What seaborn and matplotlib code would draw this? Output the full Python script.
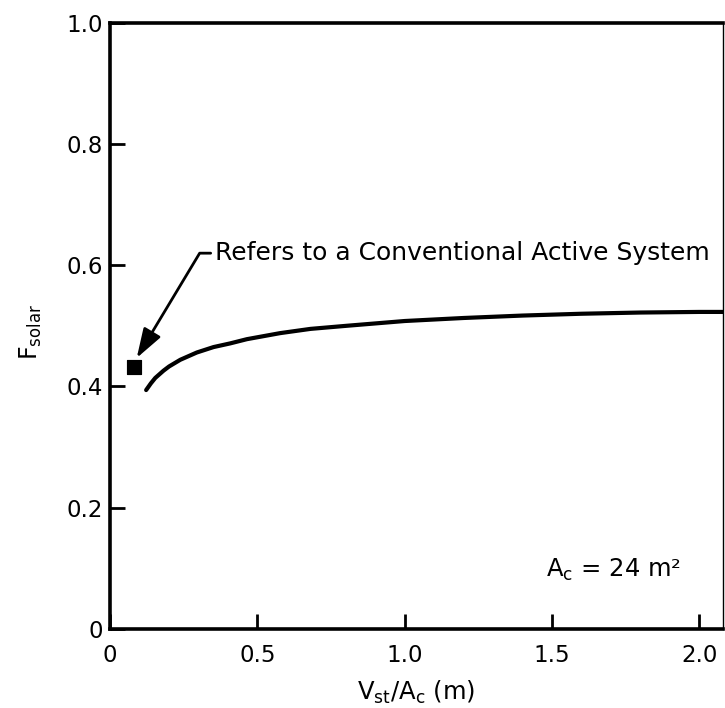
import matplotlib
matplotlib.use("Agg")
import matplotlib.pyplot as plt
import seaborn as sns

# curve
vst_ac = [0.122, 0.138, 0.153, 0.167, 0.181, 0.2, 0.238, 0.294, 0.351, 0.407, 0.464,
          0.577, 0.68, 0.8, 0.9, 1.0, 1.2, 1.4, 1.6, 1.8, 2.0, 2.08]
f_solar = [0.394, 0.405, 0.414, 0.420, 0.426, 0.433, 0.444, 0.456, 0.465, 0.471, 0.478,
           0.488, 0.495, 0.500, 0.504, 0.508, 0.513, 0.517, 0.520, 0.522, 0.523, 0.523]

# conventional active system point
conv_x = [0.0815]
conv_y = [0.432]

x_ticks = [0, 0.5, 1.0, 1.5, 2.0]
x_labels = ["0", "0.5", "1.0", "1.5", "2.0"]
y_ticks = [0, 0.2, 0.4, 0.6, 0.8, 1.0]
y_labels = ["0", "0.2", "0.4", "0.6", "0.8", "1.0"]

sns.set_style("ticks")
plt.rcParams['font.family'] = ['DejaVu Sans']
plt.rcParams['mathtext.default'] = 'regular'
plt.rcParams['text.color'] = 'black'
plt.rcParams['axes.labelcolor'] = 'black'
plt.rcParams['xtick.color'] = 'black'
plt.rcParams['ytick.color'] = 'black'

fig = plt.figure(figsize=(7.25, 7.08), dpi=100)
ax = fig.add_axes([0.152, 0.112, 0.845, 0.8555])

sns.lineplot(x=vst_ac, y=f_solar, ax=ax, color='black', linewidth=3.0,
             sort=False, estimator=None)
sns.scatterplot(x=conv_x, y=conv_y, ax=ax, marker='s', s=110, color='black',
                edgecolor='black', zorder=5)

ax.annotate("Refers to a Conventional Active System", xy=(0.09, 0.447),
            xytext=(0.357, 0.62), fontsize=18, ha='left', va='center',
            color='black',
            arrowprops=dict(arrowstyle='-|>,head_length=1.0,head_width=0.33',
                            color='black', lw=2.0, shrinkA=1, shrinkB=0,
                            relpos=(0, 0.5),
                            connectionstyle='angle,angleA=0,angleB=59,rad=0'))

ax.text(1.48, 0.097, "A$_c$ = 24 m\u00b2", fontsize=17.5, ha='left', va='center',
        color='black')

ax.set_xlim(0, 2.08)
ax.set_ylim(0, 1.0)
ax.set_xticks(x_ticks)
ax.set_xticklabels(x_labels)
ax.set_yticks(y_ticks)
ax.set_yticklabels(y_labels)
ax.tick_params(direction='in', length=11, width=2, labelsize=16.5, color='black',
               labelcolor='black')
ax.tick_params(axis='x', pad=11)
ax.tick_params(axis='y', pad=5)

for side in ['left', 'bottom', 'top']:
    ax.spines[side].set_linewidth(2.6)
    ax.spines[side].set_color('black')
ax.spines['right'].set_linewidth(1.0)
ax.spines['right'].set_color('black')

ax.set_xlabel("V$_{st}$/A$_c$ (m)", fontsize=17.5, va='bottom')
ax.xaxis.set_label_coords(0.5, -0.128)
ax.set_ylabel("F$_{solar}$", fontsize=17)
ax.yaxis.set_label_coords(-0.108, 0.49)

fig.savefig("out.png", dpi=100)
